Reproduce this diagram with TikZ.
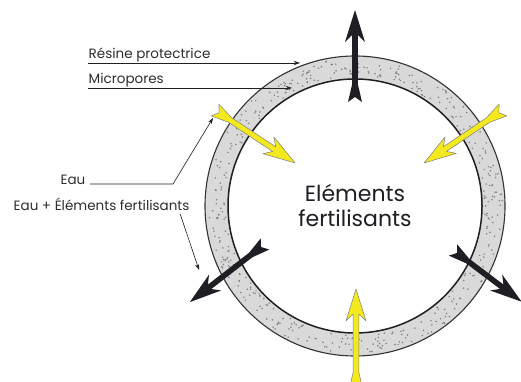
\documentclass[tikz,border=0pt]{standalone}
\usepackage{fontspec}
\setmainfont{Poppins}
\usetikzlibrary{arrows.meta, calc}
\definecolor{encre}{RGB}{30,30,36}
\definecolor{jaune}{RGB}{244,232,30}
\definecolor{texte}{RGB}{45,45,45}
\tikzset{
  anneau/.style={fill=black!15},
  etiquette/.style={inner sep=0.5pt, text=texte, font=\fontsize{13.5}{15}\selectfont},
  pointe/.style={draw=encre, line width=0.6pt, -{Stealth[length=6pt,width=4pt]}},
  noir/.style={fill=encre},
  jaune/.style={fill=jaune, draw=black!50, line width=0.5pt, line join=round},
  pics/fleche/.style={code={
    \path[pic actions] (0,7) -- (18,2.8) -- (#1-25,2.8) -- (#1-32,10) -- (#1,0)
      -- (#1-32,-10) -- (#1-25,-2.8) -- (18,-2.8) -- (0,-7) -- (5,0) -- cycle;
  }},
}
\begin{document}
\begin{tikzpicture}[x=1pt, y=1pt]
    \useasboundingbox[fill=white] (0,0) rectangle (521,382);
    % Anneau de résine
    \coordinate (c) at (355,176);
    \fill[anneau, even odd rule] (c) circle (150) (c) circle (127);
    \pgfmathsetseed{11}
    \foreach \i in {1,...,420} {
        \pgfmathsetmacro\ang{360*rnd}
        \pgfmathsetmacro\ray{129.5+18*rnd}
        \fill[black!50] ($(c)+(\ang:\ray)$) circle (0.85);
    }
    \draw[black!80, line width=1.1pt] (c) circle (150);
    \draw[encre, line width=1.5pt] (c) circle (127);
    \node[text=encre, align=center, font=\fontsize{22}{25}\selectfont] (elements) at (c) {Eléments\\fertilisants};
    % Flèches
    \foreach \x/\y/\a/\l in {355/280/90/92, 265/138/217.7/95, 453/132/-37/86} {
        \pic[noir, rotate=\a] at (\x,\y) {fleche=\l};
    }
    \foreach \x/\y/\a/\l in {215/272/-33.5/96, 503/272/213.9/95, 356/-8/90/101} {
        \pic[jaune, rotate=\a] at (\x,\y) {fleche=\l};
    }
    % Légendes
    \node[etiquette, anchor=south west] (resine) at (88,319) {Résine protectrice};
    \coordinate (pR) at (300,319);
    \draw[pointe] (resine.south west) -- (pR);
    \node[etiquette, anchor=south west] (micro) at (88,294) {Micropores};
    \coordinate (pM) at (292,294);
    \draw[pointe] (micro.south west) -- (pM);
    \node[etiquette, anchor=base east] (eau) at (86,197) {Eau};
    \coordinate (coude) at (173,198);
    \coordinate (pE) at (213,264);
    \draw[pointe] ([xshift=4pt,yshift=1pt]eau.base east) -- (coude) -- (pE);
    \node[etiquette, anchor=base west] (eauplus) at (13,171) {Eau + Éléments fertilisants};
    \coordinate (pF) at (199,112);
    \draw[pointe] ([xshift=-10pt,yshift=-2pt]eauplus.south east) -- (pF);
\end{tikzpicture}
\end{document}
